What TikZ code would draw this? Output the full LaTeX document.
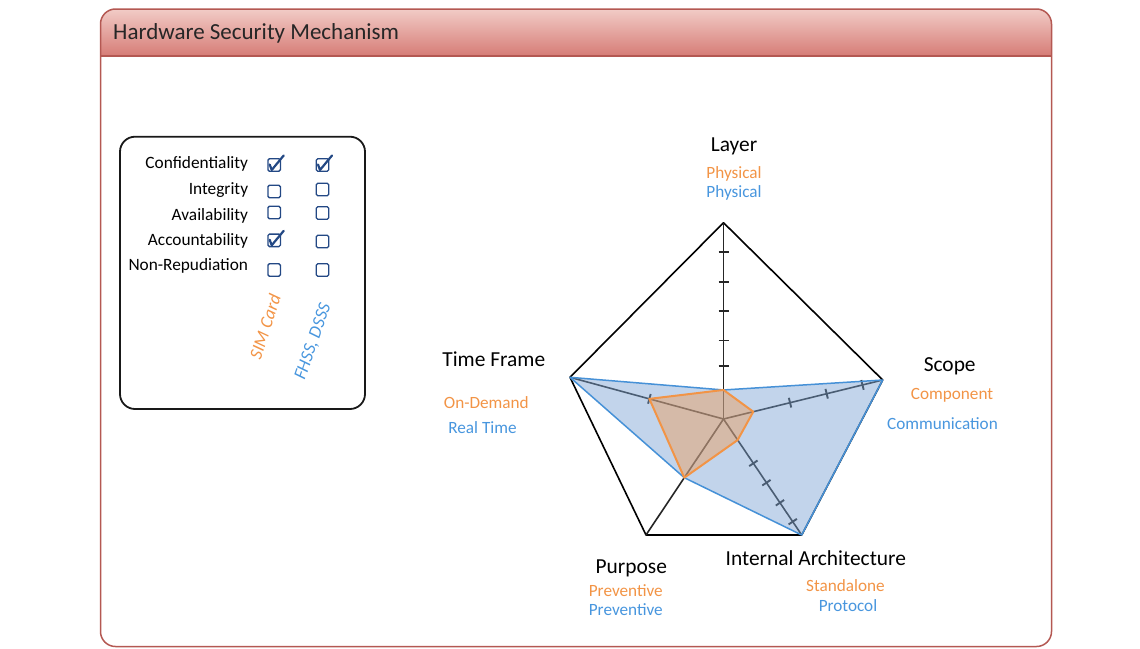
\documentclass[tikz,border=0pt]{standalone}
\usepackage{fontspec}
\setmainfont{Carlito}
\usetikzlibrary{calc}
\definecolor{orangeC}{RGB}{242,148,70}
\definecolor{blueT}{RGB}{72,150,222}
\definecolor{blueL}{RGB}{70,145,215}
\definecolor{blueF}{RGB}{120,160,210}
\definecolor{frameC}{RGB}{180,88,82}
\definecolor{hdrT}{RGB}{242,205,200}
\definecolor{hdrB}{RGB}{214,124,118}
\definecolor{boxblue}{RGB}{35,72,132}
\tikzset{
  ttl/.style={font=\fontsize{21.4}{24}\selectfont, inner sep=0pt, anchor=base},
  sub/.style={font=\fontsize{17.2}{20}\selectfont, inner sep=0pt, anchor=base},
  ora/.style={sub, text=orangeC},
  blu/.style={sub, text=blueT},
  lab/.style={font=\fontsize{17.3}{20}\selectfont, inner sep=0pt, anchor=base east},
  cbox/.style={draw=boxblue, line width=1.4pt, rounded corners=1.5pt, minimum size=12.5pt, inner sep=0pt},
  chk/.style={draw=boxblue, line width=2.2pt, line join=round, line cap=round},
  axisline/.style={draw=black!85, line width=1.6pt},
  tickline/.style={draw=black!85, line width=1.9pt},
  outline/.style={draw=black, line width=1.6pt, line join=round},
}
\newcommand\mychk[1]{\draw[chk] ($(#1.center)+(-4.5,-0.5)$) -- ($(#1.center)+(-2.5,5)$) -- ($(#1.center)+(9.5,-9.5)$);}
\newcommand\mytick[2]{\draw[tickline] ($(C)!#1!(#2)!5pt!90:(#2)$) -- ($(C)!#1!(#2)!5pt!-90:(#2)$);}
\begin{document}
\begin{tikzpicture}[x=1pt,y=-1pt]
\useasboundingbox (0,0) rectangle (1140,648);
% frame
\begin{scope}
\clip[rounded corners=15pt] (100.5,9) rectangle (1051.5,646.5);
\shade[top color=hdrT, bottom color=hdrB] (99,8) rectangle (1053,56);
\end{scope}
\draw[frameC, line width=1.3pt] (100.5,56) -- (1051.5,56);
\draw[frameC, line width=1.5pt, rounded corners=15pt] (100.5,9) rectangle (1051.5,646.5);
\node[anchor=base west, inner sep=0pt, font=\fontsize{23}{26}\selectfont, text=black!85] (hdr) at (113,39.5) {Hardware Security Mechanism};

% checkbox panel
\draw[black!90, line width=1.8pt, rounded corners=15pt] (120,136.7) rectangle (365,409);
\node[lab] (conf) at (248.3,168.3) {Confidentiality};
\node[lab] (integ) at (248.3,194) {Integrity};
\node[lab] (avail) at (248.3,220) {Availability};
\node[lab] (acc) at (248.3,245) {Accountability};
\node[lab] (nonrep) at (248.3,270) {Non-Repudiation};
\node[cbox] (a1) at (274.2,165) {};
\node[cbox] (a2) at (274.2,191.5) {};
\node[cbox] (a3) at (274.2,212.5) {};
\node[cbox] (a4) at (274.2,240.3) {};
\node[cbox] (a5) at (274.2,270) {};
\node[cbox] (b1) at (322.5,165) {};
\node[cbox] (b2) at (322.5,189.5) {};
\node[cbox] (b3) at (322.5,213) {};
\node[cbox] (b4) at (322.5,241.5) {};
\node[cbox] (b5) at (322.5,270) {};
\mychk{a1}
\mychk{b1}
\mychk{a4}
\node[rotate=72, inner sep=0pt, font=\itshape\fontsize{18}{20}\selectfont, text=orangeC] (sim) at (265,326.7) {SIM Card};
\node[rotate=71, inner sep=0pt, font=\itshape\fontsize{18}{20}\selectfont, text=blueT] (fhss) at (313.3,341.7) {FHSS, DSSS};

% radar
\coordinate (C) at (723.5,419);
\coordinate (T) at (723.5,222.7);
\coordinate (R) at (882.7,380);
\coordinate (BR) at (801.7,535);
\coordinate (BL) at (646,535);
\coordinate (L) at (570,377.3);
\draw[outline] (T) -- (R) -- (BR) -- (BL) -- (L) -- cycle;
\draw[axisline] (C) -- (T);
\draw[axisline] (C) -- (R);
\draw[axisline] (C) -- (BR);
\draw[axisline] (C) -- (BL);
\draw[axisline] (C) -- (L);
\foreach \t in {0.272,0.4,0.551,0.70,0.853} {\mytick{\t}{T}}
\foreach \t in {0.418,0.648,0.873} {\mytick{\t}{R}}
\foreach \t in {0.382,0.549,0.722,0.885} {\mytick{\t}{BR}}
\mytick{0.483}{L}
\coordinate (oT) at ($(C)!0.148!(T)$);
\coordinate (oR) at ($(C)!0.187!(R)$);
\coordinate (oBR) at ($(C)!0.181!(BR)$);
\coordinate (oBL) at ($(C)!0.506!(BL)$);
\coordinate (oL) at ($(C)!0.483!(L)$);
\fill[blueF, opacity=0.45] (L) -- (oT) -- (R) -- (BR) -- (oBL) -- cycle;
\draw[blueL, line width=1.5pt, line join=round] (L) -- (oT) -- (R) -- (BR) -- (oBL) -- cycle;
\fill[orangeC, opacity=0.4] (oT) -- (oR) -- (oBR) -- (oBL) -- (oL) -- cycle;
\draw[orangeC, line width=2pt, line join=round] (oT) -- (oR) -- (oBR) -- (oBL) -- (oL) -- cycle;

% labels
\node[ttl] (layer) at (734,151) {Layer};
\node[ora] (lay1) at (734,178.3) {Physical};
\node[blu] (lay2) at (734,197.7) {Physical};
\node[ttl] (scope) at (949.7,371.7) {Scope};
\node[ora] (sc1) at (952,399) {Component};
\node[blu] (sc2) at (942.5,429) {Communication};
\node[ttl] (time) at (493.8,366.7) {Time Frame};
\node[ora] (tf1) at (486.3,408.3) {On-Demand};
\node[blu] (tf2) at (482.5,433.3) {Real Time};
\node[ttl] (purp) at (631.3,573.3) {Purpose};
\node[ora] (pu1) at (625.8,596) {Preventive};
\node[blu] (pu2) at (625.8,615) {Preventive};
\node[ttl] (ia) at (815.8,565) {Internal Architecture};
\node[ora] (ia1) at (845.5,591.7) {Standalone};
\node[blu] (ia2) at (848,611.7) {Protocol};
\end{tikzpicture}
\end{document}
